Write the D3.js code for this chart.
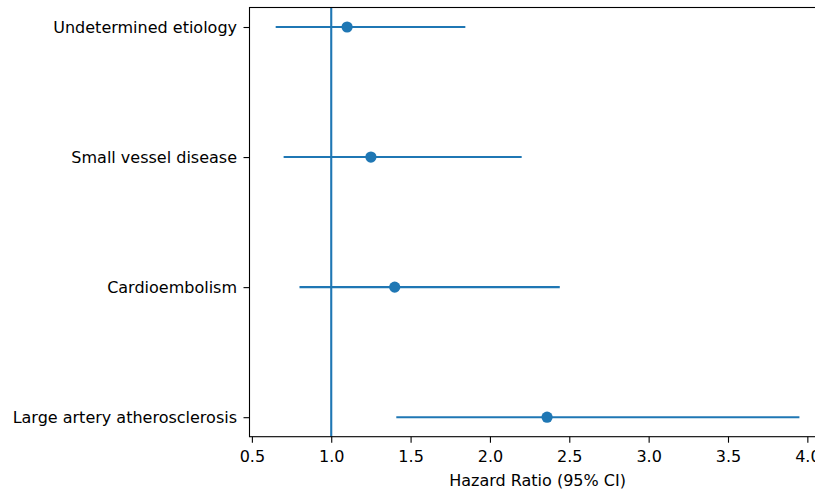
<!DOCTYPE html>
<html>
<head>
<meta charset="utf-8">
<script src="https://cdn.jsdelivr.net/npm/d3@7"></script>
<style>
  html, body { margin: 0; padding: 0; background: #fff; overflow: hidden; }
  svg { display: block; }
  text { font-family: "DejaVu Sans", sans-serif; fill: #000; }
</style>
</head>
<body>
<svg id="chart" width="815" height="491"></svg>
<script>
// Data (bottom to top)
const categories = ["Large artery atherosclerosis", "Cardioembolism", "Small vessel disease", "Undetermined etiology"];
const hazardRatio = [2.36, 1.40, 1.25, 1.10];
const ciLower = [1.41, 0.80, 0.70, 0.65];
const ciUpper = [3.95, 2.44, 2.20, 1.845];
const xTicks = [0.5, 1.0, 1.5, 2.0, 2.5, 3.0, 3.5, 4.0];
const refValue = 1.0;
const xLabel = "Hazard Ratio (95% CI)";

const color = "#1f77b4";
const fontSize = 16;

const svg = d3.select("#chart");
const mLeft = 249.5, mTop = 7.5, mBottom = 436.7, mRight = 825.6;

// matplotlib-style 5% margins
const xmin = d3.min(ciLower), xmax = d3.max(ciUpper);
const xpad = (xmax - xmin) * 0.05;
const x = d3.scaleLinear().domain([xmin - xpad, xmax + xpad]).range([mLeft, mRight]);
const n = categories.length;
const ypad = (n - 1) * 0.05;
const y = d3.scaleLinear().domain([-ypad, n - 1 + ypad]).range([mBottom, mTop]);

const g = svg.append("g");

// reference vertical line
g.append("line")
  .attr("x1", x(refValue)).attr("x2", x(refValue))
  .attr("y1", mTop).attr("y2", mBottom)
  .attr("stroke", color).attr("stroke-width", 2.1);

// CI lines
g.selectAll("line.ci").data(categories).join("line")
  .attr("class", "ci")
  .attr("x1", (d, i) => x(ciLower[i]))
  .attr("x2", (d, i) => x(ciUpper[i]))
  .attr("y1", (d, i) => y(i)).attr("y2", (d, i) => y(i))
  .attr("stroke", color).attr("stroke-width", 2.1);

// points
g.selectAll("circle.pt").data(categories).join("circle")
  .attr("class", "pt")
  .attr("cx", (d, i) => x(hazardRatio[i]))
  .attr("cy", (d, i) => y(i))
  .attr("r", 5.6)
  .attr("fill", color);

// axes
const xAxis = d3.axisBottom(x).tickValues(xTicks).tickFormat(d3.format(".1f")).tickSize(6).tickPadding(7.5);
const xg = svg.append("g").attr("transform", `translate(0,${mBottom})`).call(xAxis);
const yAxis = d3.axisLeft(y).tickValues(d3.range(n)).tickFormat(i => categories[i]).tickSize(6).tickPadding(6.5);
const yg = svg.append("g").attr("transform", `translate(${mLeft},0)`).call(yAxis);

[xg, yg].forEach(a => {
  a.select(".domain").remove();
  a.selectAll(".tick line").attr("stroke", "#000").attr("stroke-width", 1.1);
  a.selectAll(".tick text").attr("font-size", fontSize).attr("font-family", "DejaVu Sans").attr("fill", "#000");
});

// spines
const spines = svg.append("g").attr("fill", "none").attr("stroke", "#000").attr("stroke-width", 1.1);
spines.append("rect").attr("x", mLeft).attr("y", mTop).attr("width", mRight - mLeft).attr("height", mBottom - mTop);

// x label
svg.append("text")
  .attr("x", (mLeft + mRight) / 2).attr("y", 485.5)
  .attr("text-anchor", "middle")
  .attr("font-size", fontSize)
  .text(xLabel);
</script>
</body>
</html>
